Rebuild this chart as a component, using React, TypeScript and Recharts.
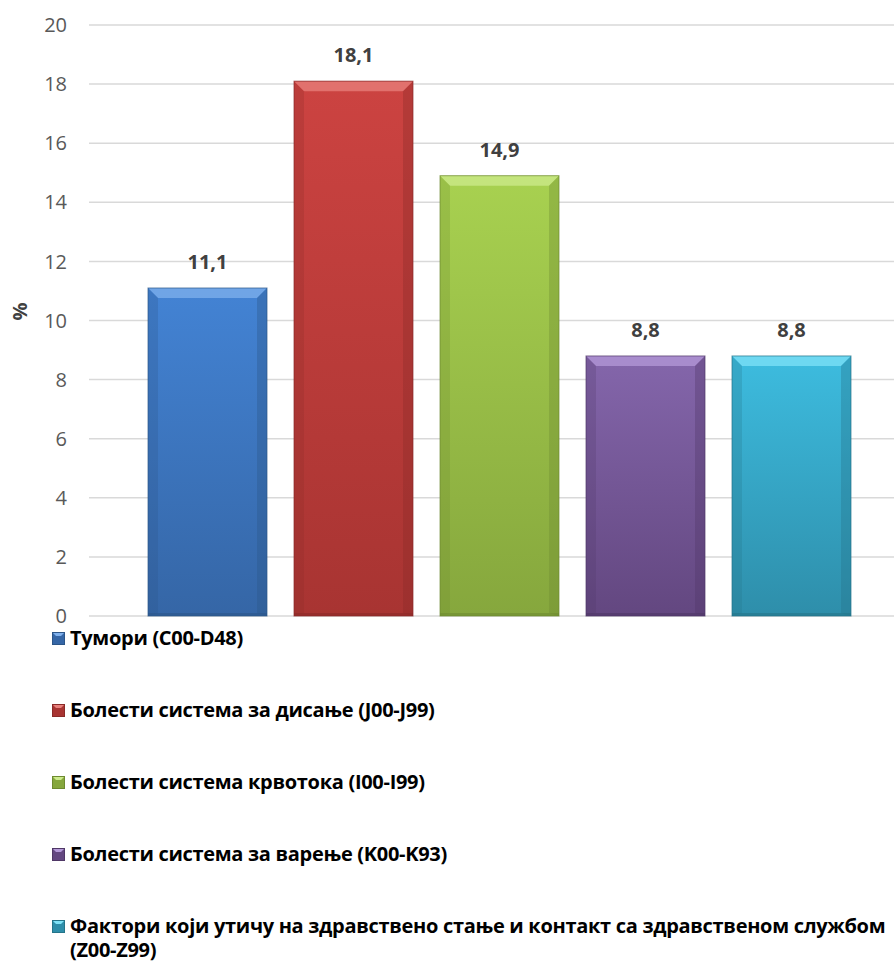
import { Bar, BarChart, CartesianGrid, LabelList, XAxis, YAxis } from "recharts";

const SERIES_NAMES = [
  "Тумори (C00-D48)",
  "Болести система за дисање (J00-J99)",
  "Болести система крвотока (I00-I99)",
  "Болести система за варење (K00-K93)",
  "Фактори који утичу на здравствено стање и контакт са здравственом службом (Z00-Z99)",
];
const SERIES_VALUES = [11.1, 18.1, 14.9, 8.8, 8.8];
const Y_TICKS = [0, 2, 4, 6, 8, 10, 12, 14, 16, 18, 20];

// [light top, dark bottom, bevel highlight, edge shade]
const COLORS = [
  ["#4383d4", "#3566a6", "#7fb0ec", "#2b5588"],
  ["#cc4341", "#a83432", "#e8807c", "#8a2a28"],
  ["#a8d150", "#86a73d", "#cdeb8c", "#6e8a30"],
  ["#8466ab", "#634780", "#b499d8", "#4f3766"],
  ["#3dbcdf", "#2e8eaa", "#7fe2f7", "#247489"],
];

const FONT = "'Open Sans', 'Noto Sans', sans-serif";

const chartData = [
  SERIES_VALUES.reduce<Record<string, number | string>>(
    (row, v, i) => {
      row["s" + i] = v;
      return row;
    },
    { name: "" }
  ),
];

function BevelBar(props: any) {
  const { x, y, width, height, idx } = props;
  if (!height || height <= 0) return null;
  const c = COLORS[idx];
  const b = 10;
  const id = "grad" + idx;
  return (
    <g>
      <defs>
        <linearGradient id={id} x1="0" y1="0" x2="0" y2="1">
          <stop offset="0%" stopColor={c[0]} />
          <stop offset="100%" stopColor={c[1]} />
        </linearGradient>
      </defs>
      <rect x={x} y={y} width={width} height={height} fill={`url(#${id})`} />
      {/* top bevel */}
      <polygon
        points={`${x},${y} ${x + width},${y} ${x + width - b},${y + b} ${x + b},${y + b}`}
        fill={c[2]}
        opacity={0.75}
      />
      {/* left / right edges */}
      <polygon
        points={`${x},${y} ${x + b},${y + b} ${x + b},${y + height - 3} ${x},${y + height}`}
        fill={c[3]}
        opacity={0.25}
      />
      <polygon
        points={`${x + width},${y} ${x + width - b},${y + b} ${x + width - b},${y + height - 3} ${x + width},${y + height}`}
        fill={c[3]}
        opacity={0.35}
      />
      <rect x={x} y={y + height - 3} width={width} height={3} fill={c[3]} opacity={0.6} />
      <rect x={x} y={y} width={width} height={height} fill="none" stroke={c[3]} strokeWidth={1} opacity={0.7} />
    </g>
  );
}

function LegendBox({ idx }: { idx: number }) {
  const c = COLORS[idx];
  return (
    <svg width={13} height={13} style={{ flex: "0 0 auto", marginTop: 6, marginRight: 5 }}>
      <rect x={0} y={0} width={13} height={13} fill={c[1]} />
      <polygon points="0,0 13,0 9,4 4,4" fill={c[2]} />
      <rect x={0.5} y={0.5} width={12} height={12} fill="none" stroke={c[3]} strokeWidth={1} />
    </svg>
  );
}

export default function App() {
  return (
    <div
      style={{
        position: "absolute",
        left: 0,
        top: 0,
        width: 894,
        height: 965,
        overflow: "hidden",
        background: "#fff",
        fontFamily: FONT,
      }}
    >
      <BarChart
        width={915}
        height={630}
        data={chartData}
        margin={{ top: 25, right: 6, bottom: 14, left: 0 }}
        barSize={119}
        barGap={27}
      >
        <CartesianGrid vertical={false} stroke="#d9d9d9" strokeWidth={1.5} />
        <XAxis dataKey="name" hide />
        <YAxis
          domain={[0, 20]}
          ticks={Y_TICKS}
          width={89}
          axisLine={false}
          tickLine={false}
          tickSize={0}
          tickMargin={22}
          tick={{ fill: "#595959", fontSize: 20, fontFamily: FONT }}
          label={{
            value: "%",
            angle: -90,
            position: "insideLeft",
            offset: 20,
            style: { fill: "#404040", fontSize: 20, fontWeight: 700, fontFamily: FONT },
          }}
        />
        {SERIES_NAMES.map((name, i) => (
          <Bar
            key={name}
            dataKey={"s" + i}
            name={name}
            fill={COLORS[i][0]}
            isAnimationActive={false}
            shape={(p: any) => <BevelBar {...p} idx={i} />}
          >
            <LabelList
              dataKey={"s" + i}
              position="top"
              offset={19}
              formatter={(v: any) => String(v).replace(".", ",")}
              style={{ fill: "#404040", fontSize: 20, fontWeight: 700, fontFamily: FONT }}
            />
          </Bar>
        ))}
      </BarChart>
      <div style={{ position: "absolute", left: 52, top: 626, width: 842 }}>
        {SERIES_NAMES.map((name, i) => (
          <div
            key={name}
            style={{
              display: "flex",
              alignItems: "flex-start",
              marginBottom: 48,
            }}
          >
            <LegendBox idx={i} />
            <span
              style={{
                fontSize: 20,
                fontWeight: 700,
                color: "#000",
                lineHeight: "24px",
                letterSpacing: "-0.3px",
                maxWidth: 824,
              }}
            >
              {name}
            </span>
          </div>
        ))}
      </div>
    </div>
  );
}
